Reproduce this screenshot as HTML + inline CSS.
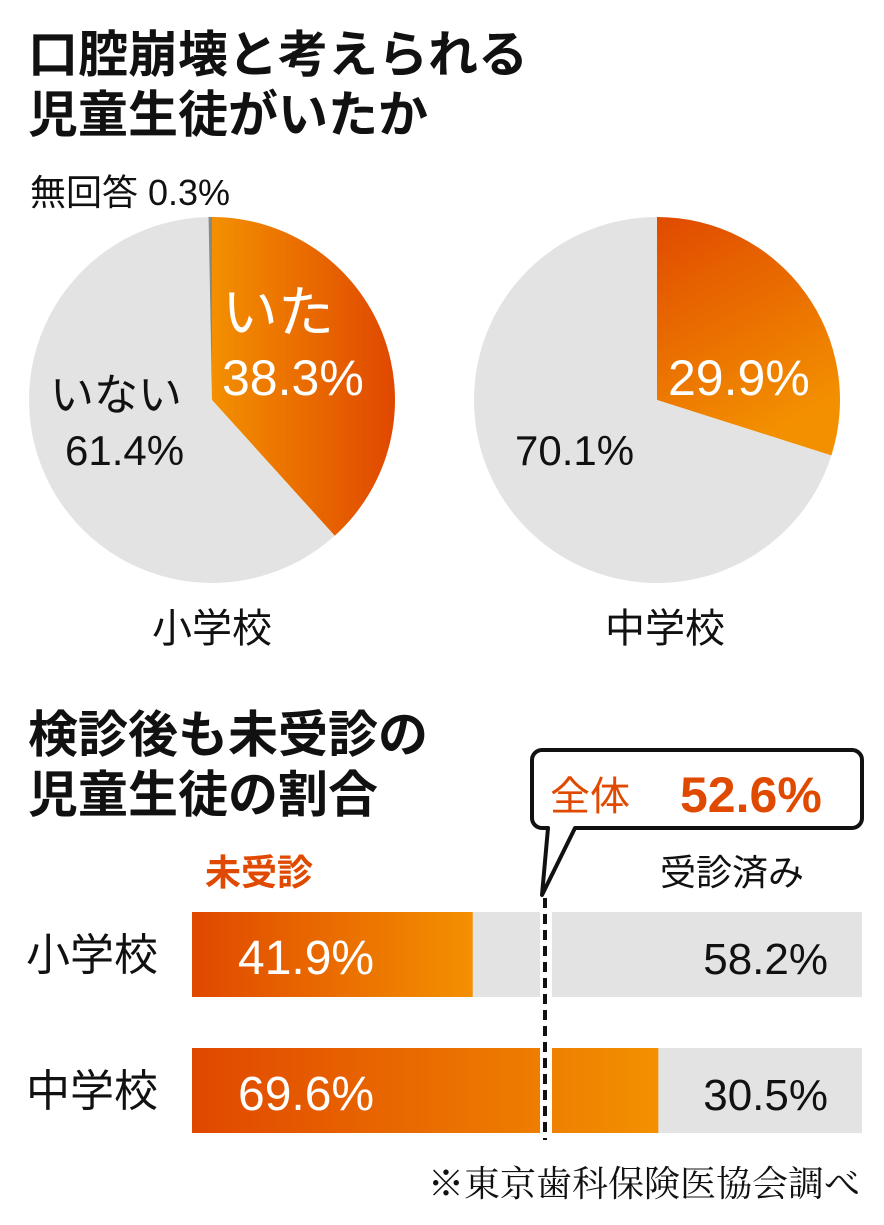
<!DOCTYPE html>
<html><head><meta charset="utf-8"><style>
body{margin:0;background:#fff;width:884px;height:1220px;overflow:hidden;font-family:"Liberation Sans","Noto Sans CJK JP",sans-serif}
svg text{font-family:"Liberation Sans","Noto Sans CJK JP",sans-serif}
</style></head><body>
<svg width="884" height="1220" viewBox="0 0 884 1220">
<defs>
<linearGradient id="go1" x1="0" y1="0" x2="1" y2="0"><stop offset="0" stop-color="#f39000"/><stop offset="1" stop-color="#e04800"/></linearGradient>
<linearGradient id="go2" x1="0" y1="0" x2="0.4" y2="1"><stop offset="0" stop-color="#e04a00"/><stop offset="1" stop-color="#f39000"/></linearGradient>
<linearGradient id="gb" x1="0" y1="0" x2="1" y2="0"><stop offset="0" stop-color="#e04800"/><stop offset="1" stop-color="#f39000"/></linearGradient>
</defs>
<g font-weight="bold" font-size="50" fill="#111">
<text x="28" y="72">口腔崩壊と考えられる</text>
<text x="28" y="132">児童生徒がいたか</text>
<text x="28" y="752">検診後も未受診の</text>
<text x="28" y="812">児童生徒の割合</text>
</g>
<g id="pies"></g>
<text x="30" y="205" font-size="36" fill="#111">無回答 0.3%</text>
<text x="222" y="332" font-size="56" fill="#fff">いた</text>
<text x="222" y="395" font-size="50" fill="#fff">38.3%</text>
<text x="50" y="410" font-size="44" fill="#111">いない</text>
<text x="65" y="465" font-size="42" fill="#111">61.4%</text>
<text x="668" y="395" font-size="50" fill="#fff">29.9%</text>
<text x="515" y="465" font-size="42" fill="#111">70.1%</text>
<text x="212" y="642" font-size="40" fill="#111" text-anchor="middle">小学校</text>
<text x="665" y="642" font-size="40" fill="#111" text-anchor="middle">中学校</text>
<path d="M548,750 H852 a10,10 0 0 1 10,10 V818 a10,10 0 0 1 -10,10 H575 L542,895 L548,828 H542 a10,10 0 0 1 -10,-10 V760 a10,10 0 0 1 10,-10 Z" fill="#fff" stroke="#111" stroke-width="4" stroke-linejoin="round"/>
<text x="550" y="810" font-size="40" fill="#e04a00">全体</text>
<text x="680" y="812" font-size="50" font-weight="bold" fill="#e04a00">52.6%</text>
<text x="205" y="885" font-size="36" font-weight="bold" fill="#e04a00">未受診</text>
<text x="660" y="885" font-size="36" fill="#111">受診済み</text>
<g id="bars"></g>
<line x1="545" y1="898" x2="545" y2="1140" stroke="#111" stroke-width="4" stroke-dasharray="10,6"/>
<text x="860" y="1196" font-size="36" fill="#111" text-anchor="end" style="font-family:'Liberation Serif','Noto Serif CJK SC',serif">※東京歯科保険医協会調べ</text>
</svg>
<script>
const pieNames=['elementary','junior'];
const pieYes=[38.3,29.9];
const pieNo=[61.4,70.1];
const pieNA=[0.3,0];
const barCats=['小学校','中学校'];
const barUnexamined=[41.9,69.6];
const barExamined=[58.2,30.5];
const overall=52.6;
const NS='http://www.w3.org/2000/svg';
function el(t,a,p){const e=document.createElementNS(NS,t);for(const k in a)e.setAttribute(k,a[k]);p.appendChild(e);return e;}
const pies=document.getElementById('pies');
const pcx=[212,657],pcy=400,pr=183;
function pt(cx,a){const r=a/100*2*Math.PI;return [cx+pr*Math.sin(r),pcy-pr*Math.cos(r)];}
function slice(cx,a0,a1,fill,name){
 const p0=pt(cx,a0),p1=pt(cx,a1),large=(a1-a0)>50?1:0;
 const e=el('path',{d:`M${cx},${pcy} L${p0[0]},${p0[1]} A${pr},${pr} 0 ${large} 1 ${p1[0]},${p1[1]} Z`,fill:fill},pies);
 
 
}
pieNames.forEach((n,i)=>{
 const cx=pcx[i];
 slice(cx,0,pieYes[i],i==0?'url(#go1)':'url(#go2)',n+'-yes-slice');
 slice(cx,pieYes[i],pieYes[i]+pieNo[i],'#e3e3e3',n+'-no-slice');
 if(pieNA[i]>0)slice(cx,100-pieNA[i],100,'#888',n+'-na-slice');
});
const bars=document.getElementById('bars');
const bx=192,bw=670,bh=85,by=[912,1048];
const X=v=>bx+v/100*bw;
const gx0=540,gx1=552;
barCats.forEach((c,i)=>{
 const y=by[i];
 const bg=el('rect',{x:bx,y:y,width:bw,height:bh,fill:'#e3e3e3'},bars);
 
 
 const r=el('rect',{x:bx,y:y,width:X(barUnexamined[i])-bx,height:bh,fill:'url(#gb)'},bars);
 
 
 const g=el('rect',{x:gx0,y:y-2,width:gx1-gx0,height:bh+4,fill:'#fff'},bars);
 
 
 const lab=el('text',{x:92,y:y+58,'font-size':44,fill:'#111','text-anchor':'middle'},bars);
 lab.textContent=c;
 
 
 const v1=el('text',{x:238,y:y+62,'font-size':48,fill:'#fff'},bars);
 v1.textContent=barUnexamined[i].toFixed(1)+'%';
 
 
 const v2=el('text',{x:828,y:y+62,'font-size':44,fill:'#111','text-anchor':'end'},bars);
 v2.textContent=barExamined[i].toFixed(1)+'%';
 
 
});
</script>
</body></html>
